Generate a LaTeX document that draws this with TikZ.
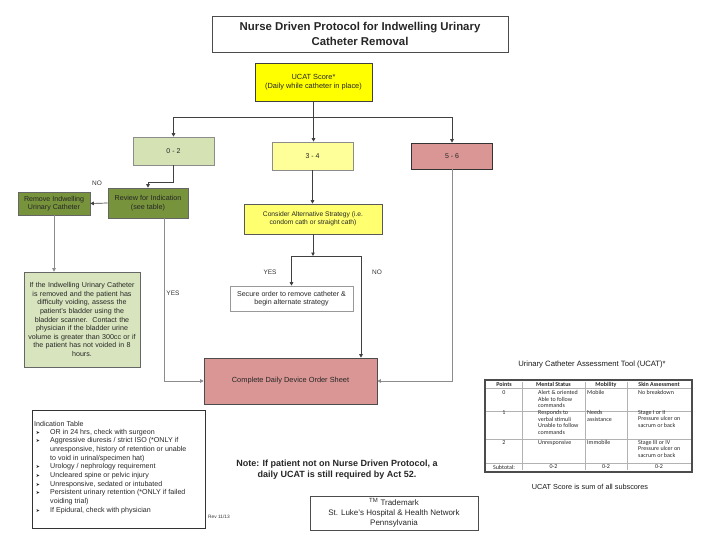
\documentclass[tikz,border=0pt]{standalone}
\usepackage{fontspec}
\setmainfont{Liberation Sans}
\newfontfamily\calfont{Carlito}
\newfontfamily\djv{DejaVu Sans}
\usetikzlibrary{arrows.meta}
\definecolor{ucatY}{HTML}{FFFF00}
\definecolor{gLight}{HTML}{D4E2B4}
\definecolor{y34}{HTML}{FFFF99}
\definecolor{rPink}{HTML}{D99694}
\definecolor{gDark}{HTML}{77933C}
\definecolor{gText}{HTML}{D7E4BD}
\definecolor{consY}{HTML}{FFFF70}
\begin{document}
\begin{tikzpicture}[x=1pt,y=-1pt,
  box/.style={draw=black!75, line width=0.6pt, align=center, inner sep=1pt, text=black!85},
  arr/.style={-{Triangle[length=3.5pt,width=3.5pt]}, line width=0.7pt, draw=black!75},
  garr/.style={-{Triangle[length=3.5pt,width=3.5pt]}, line width=0.6pt, draw=black!45},
  lbl/.style={font=\fontsize{6.5}{7}\selectfont, text=black!80, inner sep=0pt},
  tcell/.style={font=\calfont\fontsize{6}{6.8}\selectfont, inner sep=0pt, text=black!85},
  thead/.style={font=\calfont\bfseries\fontsize{6}{6.8}\selectfont, inner sep=0pt, text=black!85},
  ind/.style={font=\fontsize{7.1}{8}\selectfont, inner sep=0pt, anchor=west, text=black!85},
  bul/.style={font=\djv\fontsize{4.8}{5}\selectfont, inner sep=0pt, text=black!85}
]
\useasboundingbox (0,0) rectangle (720,540);

% title
\node[box, draw=black!70, minimum width=296pt, minimum height=36pt, font=\bfseries\fontsize{11.4}{15}\selectfont] (title) at (360,34)
  {Nurse Driven Protocol for Indwelling Urinary\\Catheter Removal};

% flow boxes
\node[box, fill=ucatY, minimum width=117pt, minimum height=38pt, font=\fontsize{7.4}{8.5}\selectfont] (ucat) at (313.5,82)
  {UCAT Score*\\(Daily while catheter in place)};
\node[box, draw=black!45, fill=gLight, minimum width=81pt, minimum height=28pt, font=\fontsize{7}{8}\selectfont] (z02) at (173.5,151) {0 - 2};
\node[box, draw=black!45, fill=y34, minimum width=81pt, minimum height=28pt, font=\fontsize{7}{8}\selectfont] (z34) at (312.5,156) {3 - 4};
\node[box, draw=black!80, fill=rPink, minimum width=81pt, minimum height=26pt, font=\fontsize{7}{8}\selectfont] (z56) at (452,156) {5 - 6};
\node[box, draw=black!60, fill=gDark, minimum width=80pt, minimum height=30pt, font=\fontsize{7.2}{8.5}\selectfont] (review) at (148,203)
  {Review for Indication\\(see table)};
\node[box, draw=black!60, fill=gDark, minimum width=72pt, minimum height=23pt, font=\fontsize{7.1}{8.3}\selectfont] (remove) at (54,203.5)
  {Remove Indwelling\\Urinary Catheter};
\node[box, draw=black!60, fill=gText, minimum width=116pt, minimum height=95pt, text width=114pt, font=\fontsize{7.1}{8.6}\selectfont] (gtext) at (82,319.5)
  {If the Indwelling Urinary Catheter\\is removed and the patient has\\difficulty voiding, assess the\\patient's bladder using the\\bladder scanner.\ \ Contact the\\physician if the bladder urine\\volume is greater than 300cc or if\\the patient has not voided in 8\\hours.};
\node[box, draw=black!65, fill=consY, minimum width=138pt, minimum height=30pt, font=\fontsize{6.7}{8.5}\selectfont] (consider) at (313,219)
  {Consider Alternative Strategy (i.e.\\condom cath or straight cath)};
\node[box, draw=black!40, fill=white, minimum width=123pt, minimum height=25pt, font=\fontsize{7.1}{8.3}\selectfont] (secure) at (291.5,298.5)
  {Secure order to remove catheter \&\\begin alternate strategy};
\node[box, draw=black!70, fill=rPink, minimum width=173pt, minimum height=46pt, font=\fontsize{7.4}{8.5}\selectfont] (complete) at (290.5,381)
  {Complete Daily Device Order Sheet};

% connectors
\coordinate (j1) at (313.5,117);
\coordinate (j2) at (313,256);
\draw[arr] (ucat.south) -- (ucat.south |- z34.north);
\draw[arr] (j1) -| (z02.north);
\draw[arr] (j1) -| (z56.north);
\draw[arr] (z02.south) -- ++(0,17) -| (review.north);
\draw[arr] (review.west) -- (remove.east);
\draw[garr] (remove.south) -- (remove.south |- gtext.north);
\draw[garr] ([xshift=16pt]review.south) |- (complete.west);
\draw[arr] (z34.south) -- (z34.south |- consider.north);
\draw[arr] (consider.south) -- (j2);
\draw[arr] (j2) -| (secure.north);
\draw[arr] (j2) -| ([xshift=70.5pt]complete.north);
\draw[garr] (z56.south) |- (complete.east);

% labels
\node[lbl] (no1) at (97,183) {NO};
\node[lbl] (yes1) at (173,293) {YES};
\node[lbl] (yes2) at (270,272) {YES};
\node[lbl] (no2) at (377,272) {NO};

% indication table
\draw[black!80, line width=0.6pt] (32,410) rectangle (205,528);
\node[ind] (it0) at (34,424) {Indication Table};
\node[bul] (b1) at (38,433) {➤};
\node[ind] (it1) at (50,433) {OR in 24 hrs, check with surgeon};
\node[bul] (b2) at (38,441) {➤};
\node[ind] (it2) at (50,441) {Aggressive diuresis / strict ISO (*ONLY if};
\node[ind] (it2b) at (50,450) {unresponsive, history of retention or unable};
\node[ind] (it2c) at (50,459) {to void in urinal/specimen hat)};
\node[bul] (b3) at (38,467) {➤};
\node[ind] (it3) at (50,467) {Urology / nephrology requirement};
\node[bul] (b4) at (38,476) {➤};
\node[ind] (it4) at (50,476) {Uncleared spine or pelvic injury};
\node[bul] (b5) at (38,485) {➤};
\node[ind] (it5) at (50,485) {Unresponsive, sedated or intubated};
\node[bul] (b6) at (38,493) {➤};
\node[ind] (it6) at (50,493) {Persistent urinary retention (*ONLY if failed};
\node[ind] (it6b) at (50,502) {voiding trial)};
\node[bul] (b7) at (38,511) {➤};
\node[ind] (it7) at (50,511) {If Epidural, check with physician};

% note
\node[font=\bfseries\fontsize{9}{10.5}\selectfont, align=center, text=black!85, inner sep=0pt] (note) at (337,469.5)
  {Note: If patient not on Nurse Driven Protocol, a\\daily UCAT is still required by Act 52.};

% trademark
\node[box, draw=black!70, minimum width=168pt, minimum height=34pt, font=\fontsize{8}{10.2}\selectfont] (tm) at (394,513)
  {\textsuperscript{TM} Trademark\\St. Luke's Hospital \& Health Network\\Pennsylvania};
\node[font=\fontsize{4.8}{5}\selectfont, text=black!80, inner sep=0pt] (rev) at (219,517) {Rev 11/13};

% UCAT table
\node[font=\fontsize{7.7}{8}\selectfont, text=black!90, inner sep=0pt] (ttitle) at (592,365) {Urinary Catheter Assessment Tool (UCAT)*};
\node[font=\fontsize{7.3}{8}\selectfont, text=black!90, inner sep=0pt] (tfoot) at (590,487) {UCAT Score is sum of all subscores};
\draw[black!30, line width=0.4pt] (522,382) -- (522,470) (585,382) -- (585,470) (627,382) -- (627,470);
\draw[black!30, line width=0.4pt] (486,388) -- (691,388) (486,411) -- (691,411) (486,439) -- (691,439) (486,463) -- (691,463);
\draw[black!70, line width=1.3pt] (485,380) rectangle (692,472);
\node[thead] (h1) at (504,384.5) {Points};
\node[thead] (h2) at (553.5,384.5) {Mental Status};
\node[thead] (h3) at (606,384.5) {Mobility};
\node[thead] (h4) at (659,384.5) {Skin Assessment};
\node[tcell] (p0) at (504,393) {0};
\node[tcell, anchor=north west, align=left] (m0) at (538,390) {Alert \& oriented\\Able to follow\\commands};
\node[tcell, anchor=north west, align=left] (o0) at (587,390) {Mobile};
\node[tcell, anchor=north west, align=left] (s0) at (638,390) {No breakdown};
\node[tcell] (p1) at (504,413) {1};
\node[tcell, anchor=north west, align=left] (m1) at (538,410) {Responds to\\verbal stimuli\\Unable to follow\\commands};
\node[tcell, anchor=north west, align=left] (o1) at (587,410) {Needs\\assistance};
\node[tcell, anchor=north west, align=left] (s1) at (638,410) {Stage I or II\\Pressure ulcer on\\sacrum or back};
\node[tcell] (p2) at (504,443) {2};
\node[tcell, anchor=north west, align=left] (m2) at (538,440) {Unresponsive};
\node[tcell, anchor=north west, align=left] (o2) at (587,440) {Immobile};
\node[tcell, anchor=north west, align=left] (s2) at (638,440) {Stage III or IV\\Pressure ulcer on\\sacrum or back};
\node[tcell] (st) at (504,467) {Subtotal:};
\node[tcell] (st1) at (553.5,467) {0-2};
\node[tcell] (st2) at (606,467) {0-2};
\node[tcell] (st3) at (659,467) {0-2};
\end{tikzpicture}
\end{document}
